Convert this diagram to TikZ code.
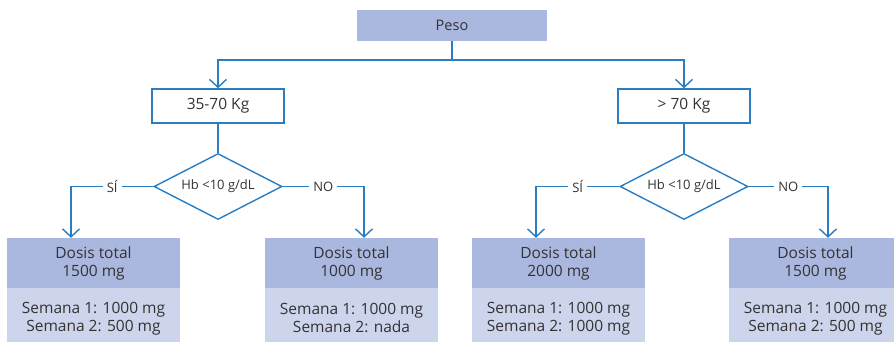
\documentclass[tikz,border=0pt]{standalone}
\usepackage{fontspec}
\setmainfont{Open Sans}
\usetikzlibrary{shapes.geometric,arrows.meta}
\definecolor{lineblue}{HTML}{2C7CC1}
\definecolor{darkfill}{HTML}{AAB8DF}
\definecolor{lightfill}{HTML}{CDD5EC}
\definecolor{txtgray}{HTML}{333333}

\begin{document}
\begin{tikzpicture}[x=1pt,y=-1pt]
\tikzstyle{every node} = [text=txtgray, font=\fontsize{15.5}{18}\selectfont]
\tikzstyle{peso} = [fill=darkfill, minimum width=190pt, minimum height=31pt, inner sep=0pt, font=\fontsize{14.5}{17}\selectfont]
\tikzstyle{rango} = [draw=lineblue, line width=1.4pt, minimum width=132pt, minimum height=34pt, inner sep=0pt]
\tikzstyle{decision} = [diamond, draw=lineblue, line width=1.4pt, aspect=1.94, minimum width=128pt, minimum height=66pt, inner sep=0pt, font=\fontsize{13}{15}\selectfont]
\tikzstyle{dosis} = [fill=darkfill, minimum width=173pt, minimum height=50pt, inner sep=0pt, align=center]
\tikzstyle{semana} = [fill=lightfill, minimum width=173pt, minimum height=60pt, inner sep=0pt, align=center, anchor=north]
\tikzstyle{conn} = [draw=lineblue, line width=1.4pt]
\tikzstyle{arr} = [conn, -{Straight Barb[length=8pt,width=17pt]}]
\tikzstyle{lbl} = [fill=white, inner sep=4pt, font=\fontsize{13}{15}\selectfont]

\useasboundingbox (0,0) rectangle (894,342);

\node[peso] (peso) at (452,25.5) {Peso};
\coordinate (split) at (452,60);

\node[rango] (r1) at (218,106) {35-70 Kg};
\node[rango] (r2) at (684,106) {> 70 Kg};

\node[decision] (d1) at (218,186.5) {Hb <10 g/dL};
\node[decision] (d2) at (684,186.5) {Hb <10 g/dL};

\node[dosis] (t1) at (93.5,263) {Dosis total\\1500 mg};
\node[semana] (s1) at (t1.south) {Semana 1: 1000 mg\\Semana 2: 500 mg};
\node[dosis] (t2) at (351.5,263) {Dosis total\\1000 mg};
\node[semana] (s2) at (t2.south) {Semana 1: 1000 mg\\Semana 2: nada};
\node[dosis] (t3) at (558.5,263) {Dosis total\\2000 mg};
\node[semana] (s3) at (t3.south) {Semana 1: 1000 mg\\Semana 2: 1000 mg};
\node[dosis] (t4) at (815.5,263) {Dosis total\\1500 mg};
\node[semana] (s4) at (t4.south) {Semana 1: 1000 mg\\Semana 2: 500 mg};

\draw[conn] (peso.south) -- (split);
\draw[arr] (split) -| (r1.north);
\draw[arr] (split) -| (r2.north);
\draw[conn] (r1.south) -- (d1.north);
\draw[conn] (r2.south) -- (d2.north);

\draw[arr] (d1.west) -| node[lbl, pos=0.25] {SÍ} ([xshift=-22.5pt]t1.north);
\draw[arr] (d1.east) -| node[lbl, pos=0.25] {NO} ([xshift=12.5pt]t2.north);
\draw[arr] (d2.west) -| node[lbl, pos=0.25] {SÍ} ([xshift=-22.5pt]t3.north);
\draw[arr] (d2.east) -| node[lbl, pos=0.25] {NO} ([xshift=12.5pt]t4.north);

\end{tikzpicture}
\end{document}
